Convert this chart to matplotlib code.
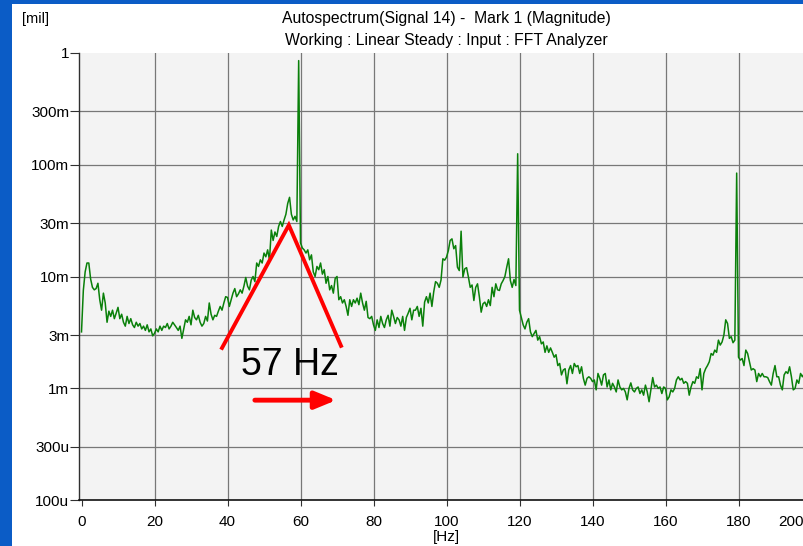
import numpy as np
import matplotlib
matplotlib.use("Agg")
import matplotlib.pyplot as plt
from matplotlib.patches import Rectangle
import matplotlib.transforms as mtransforms

plt.rcParams['font.family'] = ['Liberation Sans', 'DejaVu Sans']

# ---------------- data ----------------
freq_step_hz = 0.5
# magnitude in milli-mil (1e-3 mil), one value every 0.5 Hz starting at 0 Hz
mag_milli = [
    3.2, 7.5, 11, 13.2, 13.2, 9.5, 8.0, 7.6, 7.8, 8.7, 6.2, 5.0, 7.1, 5.8, 3.9, 4.9, 4.4, 5.0, 4.2, 4.7,
    5.3, 4.2, 4.6, 3.9, 3.6, 4.4, 3.8, 4.2, 3.7, 3.5, 3.9, 3.6, 3.8, 3.4, 3.6, 3.3, 3.7, 3.2, 3.4, 2.95,
    3.1, 3.4, 3.2, 3.6, 3.3, 3.6, 3.5, 3.8, 3.4, 3.6, 3.9, 3.7, 3.5, 3.3, 3.6, 2.8, 3.4, 4.1, 3.9, 4.4,
    3.7, 5.0, 4.3, 4.1, 4.5, 3.9, 3.6, 3.8, 4.4, 4.0, 5.8, 4.6, 4.1, 4.5, 4.4, 4.9, 5.4, 5.0, 5.8, 6.6,
    6.5, 5.4, 6.2, 7.1, 7.8, 6.6, 7.0, 7.6, 7.1, 8.2, 9.8, 8.2, 7.6, 9.3, 10.0, 9.0, 13.2, 12.3, 14.1, 13.2,
    16.2, 15.0, 17.3, 14.1, 26, 21, 25, 22.8, 28, 31, 28, 32, 36, 45, 51, 36, 32, 34.5, 31, 850,
    20, 18, 17.3, 16.2, 17.3, 14.1, 15.6, 11.0, 10.0, 12.3, 11.5, 13.2, 10.5, 11.5, 8.7, 10.0, 7.6, 8.3, 7.1, 9.6,
    10.0, 6.2, 6.6, 5.8, 6.2, 5.4, 4.5, 6.2, 5.4, 6.2, 5.8, 6.4, 5.6, 7.1, 5.8, 5.0, 6.0, 4.3, 4.2, 4.4,
    3.7, 3.3, 4.1, 3.5, 4.4, 3.8, 3.5, 4.1, 4.5, 3.6, 5.0, 4.4, 3.8, 4.3, 4.1, 3.6, 4.4, 3.3, 4.3, 4.7,
    5.2, 4.1, 5.0, 5.0, 5.4, 4.4, 5.2, 3.6, 5.9, 6.6, 5.8, 7.1, 5.4, 7.3, 9.0, 8.7, 8.0, 9.3, 14.4, 14.0,
    14.9, 17, 21, 21.7, 17.7, 18.9, 12.1, 11.3, 25.4, 9.9, 11.7, 12.0, 9.9, 8.0, 8.4, 6.1, 8.0, 8.6, 6.6, 4.8,
    5.7, 5.9, 5.4, 6.2, 5.5, 8.0, 6.6, 8.6, 7.6, 7.5, 8.6, 9.2, 10.0, 12.1, 14.4, 9.2, 8.0, 9.4, 8.3, 125,
    5.0, 4.3, 3.7, 3.4, 3.9, 4.2, 3.2, 2.9, 3.1, 3.3, 2.7, 2.9, 2.5, 2.6, 2.1, 2.4, 2.1, 2.3, 2.1, 1.9,
    2.0, 1.6, 1.67, 1.32, 1.46, 1.5, 1.1, 1.46, 1.6, 1.36, 1.67, 1.56, 1.6, 1.36, 1.56, 1.23, 1.07, 1.23, 1.27, 1.23,
    1.15, 1.19, 0.97, 1.36, 1.23, 1.07, 1.32, 1.36, 1.03, 1.19, 0.97, 1.11, 1.03, 0.93, 1.19, 1.03, 0.97, 1.0, 0.93, 0.79,
    1.0, 1.12, 0.97, 0.93, 1.0, 1.03, 0.9, 0.97, 0.87, 1.07, 0.93, 0.76, 0.97, 1.25, 1.03, 1.07, 1.0, 1.03, 0.9, 1.03,
    1.0, 0.79, 0.84, 0.97, 0.93, 1.0, 1.19, 1.27, 1.19, 1.23, 1.11, 1.15, 1.11, 0.87, 1.03, 1.15, 1.11, 1.27, 1.23, 1.5,
    0.97, 1.36, 1.5, 1.6, 1.73, 2.05, 1.98, 2.2, 2.1, 2.7, 2.44, 2.6, 3.0, 4.1, 3.8, 2.8, 2.9, 2.56, 2.7, 84,
    1.9, 1.79, 1.85, 1.6, 2.2, 2.05, 1.73, 1.46, 1.5, 1.46, 1.15, 1.36, 1.27, 1.36, 1.27, 1.27, 1.25, 1.15, 1.07, 1.36,
    1.6, 1.27, 1.27, 1.07, 0.97, 1.32, 1.41, 1.36, 1.56, 1.27, 0.97, 1.0, 1.19, 1.11, 1.36, 1.27, 1.36, 1.2, 1.3, 1.25,
]

x_ticks = [0, 20, 40, 60, 80, 100, 120, 140, 160, 180, 200]
y_ticks = [1e-4, 3e-4, 1e-3, 3e-3, 1e-2, 3e-2, 1e-1, 3e-1, 1.0]
y_tick_labels = ['100u', '300u', '1m', '3m', '10m', '30m', '100m', '300m', '1']

title_line1 = 'Autospectrum(Signal 14) -  Mark 1 (Magnitude)'
title_line2 = 'Working : Linear Steady : Input : FFT Analyzer'
y_unit = '[mil]'
x_unit = '[Hz]'

# annotation (red triangle, label, arrow)
tri_x = [38.5, 56.8, 71.1]
tri_y = [2.3e-3, 0.0288, 2.4e-3]
note_text = '57 Hz'
note_x, note_y = 57.1, 1.63e-3
arrow_x = [47.5, 69.8]
arrow_y = 7.85e-4

freq = np.arange(len(mag_milli)) * freq_step_hz
mag = np.array(mag_milli) * 1e-3

# ---------------- figure ----------------
W, H = 804, 546
fig = plt.figure(figsize=(W / 100, H / 100), dpi=100)
fig.patch.set_facecolor('#0b5cc6')
fig.add_artist(Rectangle((12 / W, 0), 1, (H - 4) / H, transform=fig.transFigure,
                         facecolor='white', edgecolor='none', zorder=0))

ax_left, ax_right = 79, 811.5
ax_top, ax_bot = 52.7, 500.3
ax = fig.add_axes([ax_left / W, (H - ax_bot) / H, (ax_right - ax_left) / W, (ax_bot - ax_top) / H])
ax.set_facecolor('#f3f3f3')

ax.plot(freq, mag, color='#0a800a', lw=1.1, zorder=3)

ax.set_yscale('log')
ax.set_xlim(-0.685, 200)
ax.set_ylim(1e-4, 1.0)
ax.set_xticks(x_ticks)
ax.set_xticklabels([str(t) for t in x_ticks])
ax.set_yticks(y_ticks)
ax.set_yticklabels(y_tick_labels)
ax.minorticks_off()

ax.grid(True, which='major', color='#777777', lw=0.9, zorder=1)
xg = ax.get_xgridlines()
xg[0].set_visible(False)
yg = ax.get_ygridlines()
yg[0].set_visible(False)
yg[-1].set_visible(False)

for s in ['top', 'right']:
    ax.spines[s].set_visible(False)
ax.spines['left'].set_color('#303030')
ax.spines['bottom'].set_color('#101010')
ax.spines['left'].set_linewidth(1.0)
ax.spines['bottom'].set_linewidth(1.2)

ax.tick_params(axis='y', direction='out', length=6.5, width=0.8, pad=0.5,
               labelsize=11, colors='#303030', labelcolor='black')
ax.tick_params(axis='x', direction='out', length=4.3, width=0.8, pad=6,
               labelsize=11, colors='#303030', labelcolor='black')

# last x tick label sits at the figure edge: keep it inside the picture
last_lbl = ax.get_xticklabels()[-1]
last_lbl.set_horizontalalignment('right')
last_lbl.set_transform(last_lbl.get_transform() +
                       mtransforms.ScaledTranslation(-8 / 100, 0, fig.dpi_scale_trans))

# annotation
ax.plot(tri_x, tri_y, color='#ff0000', lw=2.8, zorder=5, solid_joinstyle='miter')
ax.text(note_x, note_y, note_text, fontsize=27, ha='center', va='center', color='black', zorder=6)
ax.annotate('', xy=(arrow_x[1], arrow_y), xytext=(arrow_x[0], arrow_y),
            arrowprops=dict(arrowstyle='-|>,head_length=0.85,head_width=0.35',
                            mutation_scale=15, lw=3.5, color='#ff0000',
                            shrinkA=0, shrinkB=0), zorder=6)

# titles
fig.text(446 / W, 1 - 19 / H, title_line1, ha='center', va='center', fontsize=11.3)
fig.text(446 / W, 1 - 41 / H, title_line2, ha='center', va='center', fontsize=11.3)
fig.text(22 / W, 1 - 19 / H, y_unit, ha='left', va='center', fontsize=10.5)
fig.text(446 / W, 1 - 537 / H, x_unit, ha='center', va='center', fontsize=11)

fig.savefig('out.png', dpi=100, facecolor=fig.get_facecolor())
